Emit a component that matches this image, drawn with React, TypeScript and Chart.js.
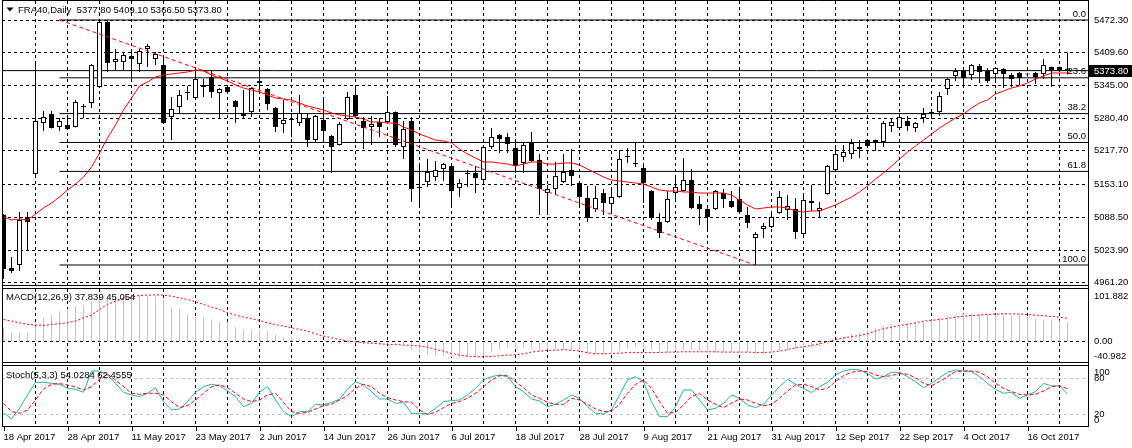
import React, { useEffect, useRef } from 'react';
import { Chart, registerables } from 'chart.js';

Chart.register(...registerables);

// ---------------- data ----------------
const dateLabels = ['18 Apr 2017', '28 Apr 2017', '11 May 2017', '23 May 2017', '2 Jun 2017', '14 Jun 2017', '26 Jun 2017', '6 Jul 2017', '18 Jul 2017', '28 Jul 2017', '9 Aug 2017', '21 Aug 2017', '31 Aug 2017', '12 Sep 2017', '22 Sep 2017', '4 Oct 2017', '16 Oct 2017'];
const priceTicks = [5472.3, 5409.6, 5345.0, 5280.4, 5217.7, 5153.1, 5088.5, 5023.9, 4961.2];

const opens = [
  5092.9, 4989.7, 4995.6, 5089.0, 5172.7, 5271.9, 5289.4, 5264.1, 5268.0, 5264.1,
  5305.0, 5310.9, 5342.0, 5468.5, 5390.6, 5390.6, 5402.2, 5386.7, 5415.9, 5396.4,
  5384.8, 5283.6, 5303.1, 5332.2, 5320.5, 5345.9, 5361.4, 5330.3, 5342.0, 5314.8,
  5289.4, 5293.3, 5353.7, 5338.1, 5301.1, 5270.0, 5279.7, 5271.9, 5281.6, 5238.8,
  5277.7, 5246.6, 5229.1, 5279.7, 5326.4, 5275.8, 5264.1, 5273.8, 5273.8, 5293.3,
  5225.2, 5275.8, 5147.4, 5157.1, 5166.8, 5182.4, 5188.2, 5145.4, 5174.6, 5174.6,
  5161.0, 5225.2, 5248.6, 5244.6, 5223.2, 5194.1, 5233.0, 5199.9, 5135.7, 5143.5,
  5157.1, 5180.5, 5155.1, 5126.0, 5104.6, 5135.7, 5114.3, 5127.9, 5207.7, 5194.1,
  5184.3, 5139.6, 5079.3, 5079.3, 5135.7, 5139.6, 5161.0, 5114.3, 5104.6, 5104.6,
  5135.7, 5120.1, 5124.0, 5092.9, 5048.1, 5065.7, 5069.5, 5096.8, 5102.6, 5104.6,
  5055.9, 5116.2, 5100.7, 5133.8, 5180.5, 5205.7, 5211.6, 5225.2, 5238.8, 5238.8,
  5234.9, 5266.0, 5262.1, 5275.8, 5262.1, 5281.6, 5293.3, 5293.3, 5338.1, 5363.3,
  5373.1, 5365.3, 5382.8, 5373.1, 5367.2, 5377.0, 5365.3, 5369.2, 5367.2, 5369.2,
  5367.2, 5380.9, 5380.9, 5377.8,
];
const highs = [
  5094.8, 5011.2, 5098.7, 5098.7, 5390.6, 5295.3, 5295.3, 5281.6, 5285.5, 5316.7,
  5308.9, 5386.5, 5470.4, 5472.3, 5415.9, 5408.1, 5410.0, 5415.9, 5425.6, 5410.0,
  5402.2, 5322.5, 5336.1, 5343.9, 5375.0, 5357.5, 5373.1, 5339.5, 5343.9, 5316.7,
  5336.1, 5342.0, 5375.0, 5340.0, 5303.0, 5316.7, 5291.4, 5326.4, 5291.4, 5287.5,
  5320.5, 5248.6, 5273.8, 5332.2, 5342.0, 5283.6, 5285.5, 5281.6, 5324.5, 5294.5,
  5275.8, 5283.6, 5194.1, 5201.8, 5198.0, 5194.1, 5189.5, 5163.0, 5180.5, 5188.2,
  5226.5, 5262.1, 5250.5, 5252.5, 5238.8, 5233.0, 5254.4, 5211.6, 5151.3, 5196.0,
  5211.6, 5221.3, 5156.5, 5149.3, 5149.3, 5143.5, 5145.4, 5219.4, 5223.2, 5233.0,
  5194.1, 5141.0, 5096.8, 5139.6, 5168.8, 5203.8, 5182.4, 5129.9, 5106.0, 5141.5,
  5143.5, 5139.6, 5145.4, 5108.5, 5059.8, 5077.4, 5098.7, 5139.6, 5131.8, 5126.0,
  5129.9, 5151.3, 5118.2, 5190.2, 5227.1, 5229.1, 5240.8, 5238.8, 5240.0, 5240.0,
  5275.8, 5279.7, 5291.4, 5285.5, 5273.8, 5301.1, 5299.2, 5332.2, 5359.0, 5378.9,
  5378.9, 5386.7, 5386.7, 5378.9, 5380.0, 5378.9, 5369.2, 5371.1, 5369.2, 5371.1,
  5396.4, 5381.5, 5381.5, 5409.1,
];
const lows = [
  4968.4, 4980.1, 4984.0, 5024.8, 5170.0, 5256.4, 5261.0, 5256.4, 5259.0, 5263.0,
  5281.6, 5301.1, 5341.0, 5371.1, 5375.0, 5375.0, 5351.7, 5371.1, 5380.9, 5384.8,
  5270.5, 5238.8, 5291.4, 5316.7, 5319.5, 5322.5, 5320.5, 5281.6, 5330.3, 5271.9,
  5279.7, 5283.6, 5336.1, 5297.2, 5254.5, 5252.5, 5244.6, 5266.0, 5225.2, 5234.9,
  5234.9, 5174.7, 5228.0, 5277.7, 5283.6, 5221.3, 5229.1, 5244.6, 5272.8, 5225.2,
  5201.8, 5118.1, 5106.5, 5147.4, 5159.0, 5159.0, 5106.5, 5127.9, 5147.4, 5135.7,
  5153.2, 5221.3, 5213.5, 5213.5, 5174.7, 5174.7, 5196.5, 5092.9, 5092.9, 5131.8,
  5155.1, 5149.3, 5106.5, 5079.3, 5098.7, 5092.9, 5096.8, 5126.5, 5194.1, 5186.3,
  5116.2, 5083.2, 5048.1, 5078.0, 5122.1, 5138.5, 5104.6, 5073.4, 5059.8, 5102.6,
  5106.5, 5106.5, 5094.8, 5067.6, 4995.6, 5048.1, 5067.6, 5095.5, 5083.2, 5046.2,
  5054.5, 5100.7, 5087.1, 5132.5, 5179.5, 5196.0, 5201.8, 5203.8, 5225.2, 5217.4,
  5225.2, 5254.4, 5258.3, 5256.4, 5254.4, 5271.9, 5279.7, 5285.5, 5326.4, 5353.6,
  5340.0, 5355.6, 5349.8, 5349.8, 5349.8, 5340.0, 5342.0, 5345.9, 5362.3, 5347.9,
  5357.5, 5342.0, 5371.1, 5366.5,
];
const closes = [
  4987.8, 4984.0, 5083.2, 5079.3, 5275.8, 5283.6, 5262.1, 5275.8, 5260.2, 5312.8,
  5303.1, 5384.8, 5468.4, 5388.7, 5396.4, 5404.2, 5396.4, 5412.0, 5421.7, 5406.1,
  5271.9, 5299.2, 5326.4, 5330.3, 5357.5, 5342.0, 5332.2, 5338.1, 5332.2, 5303.1,
  5285.5, 5340.0, 5349.8, 5308.9, 5264.1, 5277.7, 5277.7, 5291.4, 5238.8, 5285.5,
  5256.4, 5225.2, 5270.0, 5322.5, 5285.5, 5262.1, 5270.0, 5264.1, 5293.3, 5229.1,
  5260.2, 5143.5, 5145.4, 5176.6, 5180.5, 5192.1, 5139.6, 5155.1, 5172.7, 5164.9,
  5225.2, 5244.6, 5240.8, 5231.0, 5188.2, 5229.1, 5197.9, 5143.5, 5143.5, 5168.8,
  5176.6, 5168.8, 5127.9, 5087.1, 5126.0, 5116.2, 5127.9, 5201.8, 5205.7, 5192.1,
  5155.1, 5087.1, 5057.9, 5124.0, 5147.4, 5161.0, 5106.5, 5104.6, 5089.0, 5139.6,
  5124.0, 5108.5, 5098.7, 5077.4, 5055.9, 5071.5, 5088.9, 5127.9, 5110.4, 5059.8,
  5122.1, 5120.1, 5106.5, 5188.2, 5211.6, 5215.5, 5233.0, 5221.3, 5227.1, 5233.0,
  5271.9, 5273.8, 5283.6, 5266.0, 5271.9, 5289.4, 5291.4, 5324.5, 5357.5, 5373.1,
  5359.5, 5384.8, 5371.1, 5353.6, 5378.9, 5367.2, 5357.5, 5359.5, 5366.2, 5361.4,
  5384.8, 5375.0, 5375.0, 5373.8,
];
const movingAverage = [
  5089.0, 5083.2, 5085.1, 5083.2, 5094.8, 5106.5, 5116.2, 5127.9, 5141.5, 5153.2,
  5166.8, 5186.3, 5213.5, 5242.7, 5268.0, 5297.2, 5320.5, 5343.9, 5351.7, 5361.4,
  5365.3, 5367.2, 5369.2, 5371.1, 5375.0, 5373.1, 5365.3, 5359.5, 5353.7, 5345.9,
  5340.0, 5336.1, 5332.2, 5326.4, 5320.5, 5318.6, 5316.7, 5310.8, 5305.0, 5301.1,
  5297.2, 5291.4, 5287.5, 5285.5, 5283.6, 5279.7, 5273.8, 5273.8, 5271.9, 5271.9,
  5264.1, 5258.3, 5250.5, 5244.6, 5238.8, 5236.9, 5233.0, 5221.3, 5211.6, 5203.8,
  5196.0, 5196.0, 5194.1, 5192.1, 5188.2, 5192.1, 5196.0, 5196.0, 5192.1, 5192.1,
  5194.1, 5194.1, 5190.2, 5182.4, 5174.6, 5166.8, 5161.0, 5159.1, 5157.1, 5155.1,
  5153.2, 5147.4, 5141.5, 5139.6, 5139.6, 5137.7, 5137.7, 5135.7, 5135.7, 5135.7,
  5135.7, 5131.8, 5122.1, 5112.4, 5104.6, 5106.5, 5108.5, 5108.5, 5106.5, 5100.7,
  5098.7, 5100.7, 5100.7, 5106.5, 5112.4, 5120.1, 5127.9, 5137.7, 5149.3, 5162.9,
  5174.6, 5188.2, 5201.8, 5215.5, 5227.1, 5238.8, 5250.5, 5262.1, 5271.9, 5281.6,
  5289.4, 5301.1, 5310.8, 5316.7, 5328.3, 5334.2, 5340.0, 5343.9, 5349.8, 5357.5,
  5363.3, 5369.2, 5369.2, 5369.2,
];
const macdMain = [
  27, 17.4, 17.4, 17.4, 30, 46, 51.5, 59, 63.7, 68.9,
  70.8, 78.5, 85, 88, 88, 89.5, 89.5, 89.5, 89.5, 88,
  81.7, 65.6, 64.4, 52.8, 47.6, 46.3, 43.1, 38.6, 38.6, 29,
  23.8, 23.8, 23.8, 20.6, 14.2, 9, 9, 4.5, 1, 0.5,
  -1, -5, -5, -2, -2, -3.9, -5, -5, -4, -4,
  -5, -14.8, -21, -25.7, -27.7, -27.7, -29.6, -30.9, -29.6, -29.6,
  -27.7, -21, -14.8, -11.6, -11.6, -11.6, -12.9, -16.7, -14.8, -14.8,
  -14.8, -14.8, -18, -24.5, -24.5, -24.5, -21, -18, -13.5, -10.3,
  -11.6, -14.8, -21, -21, -18, -14.8, -14.8, -18, -21, -21,
  -21, -21, -21, -21, -24.5, -24.5, -21, -18, -14.8, -14.8,
  -14.8, -11.6, -8.4, -3.9, 1.3, 9, 15.4, 17.4, 21.9, 27,
  30.2, 33.5, 33.5, 36.7, 38.6, 38.6, 43.1, 46.3, 49.5, 51.5,
  54, 54, 54, 54, 52.8, 52.8, 51.5, 52.8, 49.5, 45,
  43.1, 43.1, 41.2, 37.839,
];
const macdSignal = [
  43.1, 40, 36.7, 33.5, 32.2, 31.5, 33.5, 34.7, 36.7, 40,
  46.3, 51.5, 62.4, 72, 78.5, 83.7, 86.2, 89.5, 90, 90.7,
  90, 88, 85, 81.7, 77.2, 72, 67, 62.4, 56, 51.5,
  47.6, 44.4, 41.2, 36.7, 33.5, 30.2, 27, 23.8, 20.6, 15.4,
  11, 7.7, 4.5, 1.3, 0, -2, -2.6, -3.9, -5.1, -5.1,
  -6.4, -7, -8.4, -10.3, -14.8, -18, -22.5, -25.7, -27.7, -29,
  -29, -28.3, -27, -25.7, -25.1, -23.2, -19.9, -18, -16.7, -16.1,
  -15.4, -16.1, -18, -21, -23.2, -23.2, -22.5, -21.9, -21, -21,
  -21, -21, -20.6, -19.9, -19.9, -19.3, -19.3, -19.3, -19.3, -19.3,
  -19.9, -19.9, -19.9, -19.9, -20.6, -20.6, -19.9, -18, -15.4, -11.6,
  -9.7, -7.1, -3.9, 0, 4.5, 7.7, 9.7, 12.2, 15.4, 20.6,
  25.1, 28.3, 31.5, 33.5, 36.7, 39.9, 41.2, 43.1, 45, 47.6,
  49.5, 50.8, 51.5, 52.8, 53.4, 54, 54, 53.4, 52.8, 51.5,
  50.2, 48.9, 47.6, 45.054,
];
const stochMain = [
  22.8, 12.2, 30, 52.2, 73.3, 73.3, 71.7, 70, 63.3, 61.7,
  56.7, 92.2, 92.2, 85.6, 71.7, 56.7, 52.2, 49.4, 55, 64.4,
  41.1, 27.2, 28.9, 41.1, 56.7, 66.1, 70, 67.8, 58.9, 49.4,
  32.8, 38.3, 56.7, 66.1, 43.9, 24.4, 16.1, 24.4, 24.4, 36.7,
  35.6, 40, 45, 62.2, 74.4, 68.9, 57.8, 45.6, 45.6, 38.3,
  40, 21.7, 21.7, 20.6, 30, 41.1, 42.8, 43.9, 52.2, 63.3,
  77.2, 82.8, 85.6, 82.8, 66.1, 57.8, 45.6, 42.2, 32.8, 36.7,
  43.9, 52.2, 46.7, 32.8, 21.7, 20.6, 27.2, 52.2, 77.2, 82.8,
  74.4, 41.1, 16.1, 16.1, 32.8, 60.6, 60.6, 43.9, 27.2, 30,
  38.3, 52.2, 46.7, 35.6, 31.1, 36.7, 52.2, 66.1, 78.3, 70,
  63.3, 56.1, 66.1, 73.3, 85.6, 92.2, 95, 93.9, 88.3, 78.9,
  82.8, 90, 90, 82.8, 74.4, 64.4, 71.7, 81.1, 90, 93.9,
  92.2, 91.1, 82.8, 71.7, 61.7, 55, 56.7, 46.7, 52.2, 57.8,
  71.7, 67.2, 67.2, 54.0284,
];
const stochSignal = [
  38.3, 24.4, 21.7, 27.2, 43.9, 62.2, 70, 71.1, 68.9, 65.6,
  60.6, 66.1, 78.3, 86.7, 77.2, 66.1, 55, 53.3, 55, 55,
  52.2, 41.1, 31.1, 34.4, 43.9, 55, 66.1, 68.9, 64.4, 55,
  45.6, 41.1, 43.9, 52.2, 55, 40, 24.4, 21.7, 23.3, 28.9,
  34.4, 36.7, 43.9, 51.1, 63.3, 70, 66.1, 55, 47.8, 43.9,
  41.1, 40, 27.2, 20, 23.3, 31.1, 38.3, 41.1, 46.7, 55,
  66.1, 77.2, 84.4, 84.4, 74.4, 64.4, 52.2, 46.7, 40, 36.7,
  36.7, 46.7, 43.9, 36.7, 28.9, 24.4, 25.6, 36.7, 55, 70,
  77.2, 63.3, 41.1, 21.7, 23.3, 35.6, 49.4, 55, 43.9, 36.7,
  31.1, 38.3, 45.6, 43.9, 38.3, 34.4, 36.7, 46.7, 58.9, 68.9,
  70, 66.1, 60.6, 63.3, 74.4, 84.4, 90, 92.2, 91.1, 85.6,
  82.8, 84.4, 88.3, 86.7, 81.1, 71.7, 67.8, 74.4, 82.8, 91.1,
  92.2, 92.2, 90, 82.8, 71.7, 63.3, 57.8, 53.3, 52.2, 53.3,
  58.9, 66.1, 67.8, 62.4555,
];
const fibLevels = [5472.3, 5359.8, 5290.2, 5234.0, 5177.7, 4995.6];
const fibNames = ['0.0', '23.6', '38.2', '50.0', '61.8', '100.0'];
const fibAnchorBars = [7, 94];
const macdAxisLabels = ['101.882', '0.00', '-40.982'];
const stochAxisLabels = ['100', '80', '20', '0'];
const stochLevels = [80, 20];
const chartTitle = 'FRA40,Daily  5377.80 5409.10 5366.50 5373.80';
const macdTitle = 'MACD(12,26,9) 37.839 45.054';
const stochTitle = 'Stoch(5,3,3) 54.0284 62.4555';

// ---------------- layout ----------------
const W = 1132;
const H = 448;
const LEFT = 2;
const RIGHT = 1088;
const TOP = 1;
const XAXIS_H = 21;
const BAR_PX = 8;
const X_MIN = -1.5 / BAR_PX;
const X_MAX = X_MIN + (RIGHT - LEFT) / BAR_PX;
const MAIN_H = 286.5;
const MACD_H = 77;
const STOCH_H = 62.5;
const MAIN_RANGE = [4951.85, 5509.27];
const MACD_RANGE = [-43.88, 104.78];
const STOCH_RANGE = [-1.17, 103.0];
const FONT = "'Liberation Sans', Arial, sans-serif";
const FONT_SIZE = 9.5;
const DASH = [3, 3];

export default function App() {
  const ref = useRef<HTMLCanvasElement | null>(null);

  useEffect(() => {
    document.body.style.margin = '0';
    const canvas = ref.current;
    if (!canvas) return;

    const idx = closes.map((_, i) => i);
    const lastClose = closes[closes.length - 1];

    const overlay = {
      id: 'mt4Overlay',
      afterDatasetsDraw(chart: any) {
        const ctx = chart.ctx;
        const y = chart.scales.y;
        ctx.save();
        ctx.font = `${FONT_SIZE}px ${FONT}`;
        ctx.fillStyle = '#000';
        ctx.textBaseline = 'middle';
        ctx.textAlign = 'right';
        fibLevels.forEach((lv, i) => {
          ctx.fillText(fibNames[i], RIGHT - 2, y.getPixelForValue(lv) - 6);
        });
        ctx.restore();
      },
      afterDraw(chart: any) {
        const ctx = chart.ctx;
        const y = chart.scales.y;
        const bottom = chart.chartArea.bottom;
        ctx.save();
        // gaps between panes
        ctx.fillStyle = '#fff';
        ctx.fillRect(LEFT, 286, RIGHT - LEFT, 2);
        ctx.fillRect(LEFT, 363, RIGHT - LEFT, 2);
        ctx.strokeStyle = '#000';
        ctx.lineWidth = 1;
        const hl = (yy: number) => {
          ctx.beginPath();
          ctx.moveTo(LEFT, yy);
          ctx.lineTo(RIGHT + 1, yy);
          ctx.stroke();
        };
        [0.5, 285.5, 288.5, 362.5, 365.5, bottom - 0.5].forEach(hl);
        ctx.beginPath();
        ctx.moveTo(LEFT + 0.5, 0);
        ctx.lineTo(LEFT + 0.5, bottom);
        ctx.moveTo(RIGHT + 0.5, 0);
        ctx.lineTo(RIGHT + 0.5, bottom);
        ctx.stroke();

        // x tick marks under labels
        for (let i = 0; i < dateLabels.length; i++) {
          const px = Math.round(chart.scales.x.getPixelForValue(i * 8)) + 0.5;
          ctx.beginPath();
          ctx.moveTo(px, bottom);
          ctx.lineTo(px, bottom + 4);
          ctx.stroke();
        }

        // titles
        ctx.fillStyle = '#000';
        ctx.beginPath();
        ctx.moveTo(6.5, 7.5);
        ctx.lineTo(13.5, 7.5);
        ctx.lineTo(10, 11.5);
        ctx.closePath();
        ctx.fill();
        ctx.font = `${FONT_SIZE}px ${FONT}`;
        ctx.textBaseline = 'middle';
        ctx.textAlign = 'left';
        ctx.fillText(chartTitle, 18, 10.5);
        ctx.fillText(macdTitle, 6, 297.5);
        ctx.fillText(stochTitle, 6, 375.5);

        // current price box
        const py = y.getPixelForValue(lastClose);
        ctx.fillStyle = '#000';
        ctx.fillRect(RIGHT + 1, Math.round(py) - 6, W - RIGHT - 1, 12);
        ctx.fillStyle = '#fff';
        ctx.fillText(lastClose.toFixed(2), RIGHT + 6, Math.round(py));
        ctx.restore();
      },
    };

    const tickFont = { family: FONT, size: FONT_SIZE };
    const yCommon = {
      type: 'linear' as const,
      position: 'right' as const,
      stack: 'panes',
      bounds: 'data' as const,
      beginAtZero: false,
      offset: false,
      border: { display: false, dash: DASH },
      ticks: { autoSkip: false, padding: 6, font: tickFont, color: '#000' },
      afterFit: (s: any) => {
        s.width = W - RIGHT;
        s.paddingTop = 0;
        s.paddingBottom = 0;
      },
    };

    const chart = new Chart(canvas, {
      type: 'line',
      data: {
        datasets: [
          // fib levels (solid black)
          ...fibLevels.map((lv) => ({
            type: 'line' as const,
            data: [{ x: fibAnchorBars[0], y: lv }, { x: X_MAX, y: lv }],
            borderColor: '#000',
            borderWidth: 1,
            pointRadius: 0,
            yAxisID: 'y',
            order: 20,
          })),
          // bid line
          {
            type: 'line' as const,
            data: [{ x: X_MIN, y: lastClose }, { x: X_MAX, y: lastClose }],
            borderColor: '#000',
            borderWidth: 1,
            pointRadius: 0,
            yAxisID: 'y',
            order: 19,
          },
          // wicks
          {
            type: 'bar' as const,
            data: idx.map((i) => ({ x: i, y: [lows[i], highs[i]] })),
            backgroundColor: '#000',
            borderWidth: 0,
            barThickness: 1,
            maxBarThickness: 1,
            inflateAmount: 0,
            grouped: false,
            yAxisID: 'y',
            order: 10,
          },
          // bodies
          {
            type: 'bar' as const,
            data: idx.map((i) => ({ x: i, y: [opens[i], closes[i]] })),
            backgroundColor: idx.map((i) => (closes[i] >= opens[i] ? '#fff' : '#000')),
            borderColor: '#000',
            borderWidth: 1,
            borderSkipped: false,
            barThickness: 5,
            maxBarThickness: 5,
            minBarLength: 1,
            inflateAmount: 0,
            grouped: false,
            yAxisID: 'y',
            order: 9,
          },
          // moving average
          {
            type: 'line' as const,
            data: idx.map((i) => ({ x: i, y: movingAverage[i] })),
            borderColor: '#ff0000',
            borderWidth: 1,
            pointRadius: 0,
            tension: 0,
            yAxisID: 'y',
            order: 5,
          },
          // fib trend line
          {
            type: 'line' as const,
            data: [
              { x: fibAnchorBars[0], y: fibLevels[0] },
              { x: fibAnchorBars[1], y: fibLevels[fibLevels.length - 1] },
            ],
            borderColor: '#ff0000',
            borderWidth: 1,
            borderDash: [4, 3],
            pointRadius: 0,
            yAxisID: 'y',
            order: 4,
          },
          // MACD histogram
          {
            type: 'bar' as const,
            data: idx.map((i) => ({ x: i, y: macdMain[i] })),
            backgroundColor: '#c0c0c0',
            borderWidth: 0,
            barThickness: 1,
            maxBarThickness: 1,
            inflateAmount: 0,
            grouped: false,
            yAxisID: 'yM',
            order: 8,
          },
          // MACD signal
          {
            type: 'line' as const,
            data: idx.map((i) => ({ x: i, y: macdSignal[i] })),
            borderColor: '#ff0000',
            borderWidth: 1,
            borderDash: [2, 2],
            pointRadius: 0,
            yAxisID: 'yM',
            order: 3,
          },
          // Stoch main
          {
            type: 'line' as const,
            data: idx.map((i) => ({ x: i, y: stochMain[i] })),
            borderColor: '#20b2aa',
            borderWidth: 1,
            pointRadius: 0,
            yAxisID: 'yS',
            order: 2,
          },
          // Stoch signal
          {
            type: 'line' as const,
            data: idx.map((i) => ({ x: i, y: stochSignal[i] })),
            borderColor: '#ff0000',
            borderWidth: 1,
            borderDash: [4, 2],
            pointRadius: 0,
            yAxisID: 'yS',
            order: 1,
          },
        ],
      },
      options: {
        responsive: false,
        animation: false,
        devicePixelRatio: 1,
        events: [],
        layout: { padding: { left: LEFT, top: TOP, right: 0, bottom: 0 } },
        plugins: { legend: { display: false }, tooltip: { enabled: false }, title: { display: false } },
        scales: {
          x: {
            type: 'linear',
            position: 'bottom',
            min: X_MIN,
            max: X_MAX,
            offset: false,
            bounds: 'data',
            grid: {
              offset: false,
              drawTicks: false,
              lineWidth: 1,
              color: (c: any) => (c.tick && c.tick.value === 0 ? 'rgba(0,0,0,0)' : '#000'),
            },
            border: { display: false, dash: DASH },
            ticks: {
              autoSkip: false,
              maxRotation: 0,
              minRotation: 0,
              align: 'start',
              padding: 5,
              font: tickFont,
              color: '#000',
              callback: (v: any) => {
                const n = Number(v);
                return n % 8 === 0 ? dateLabels[n / 8] || '' : '';
              },
            },
            afterBuildTicks: (s: any) => {
              const t = [];
              for (let v = 0; v <= X_MAX; v += 4) t.push({ value: v });
              s.ticks = t;
            },
            afterFit: (s: any) => {
              s.height = XAXIS_H;
              s.paddingLeft = 0;
              s.paddingRight = 0;
            },
          },
          y: {
            ...yCommon,
            stackWeight: MAIN_H,
            min: MAIN_RANGE[0],
            max: MAIN_RANGE[1],
            grid: { drawTicks: false, color: '#000', lineWidth: 1 },
            ticks: { ...yCommon.ticks, callback: (v: any) => Number(v).toFixed(2) },
            afterBuildTicks: (s: any) => { s.ticks = priceTicks.map((value) => ({ value })); },
          },
          yM: {
            ...yCommon,
            stackWeight: MACD_H,
            min: MACD_RANGE[0],
            max: MACD_RANGE[1],
            grid: {
              drawTicks: false,
              lineWidth: 1,
              color: (c: any) => (c.index === 1 ? '#000' : 'rgba(0,0,0,0)'),
            },
            ticks: { ...yCommon.ticks, callback: (_v: any, i: number) => macdAxisLabels[i] },
            afterBuildTicks: (s: any) => {
              const u = (MACD_RANGE[1] - MACD_RANGE[0]) / MACD_H;
              s.ticks = [MACD_RANGE[1] - 8.5 * u, 0, MACD_RANGE[0] + 8 * u].map((value) => ({ value }));
            },
          },
          yS: {
            ...yCommon,
            stackWeight: STOCH_H,
            min: STOCH_RANGE[0],
            max: STOCH_RANGE[1],
            grid: {
              drawTicks: false,
              lineWidth: 1,
              color: (c: any) => (c.index === 1 || c.index === 2 ? '#c0c0c0' : 'rgba(0,0,0,0)'),
            },
            ticks: { ...yCommon.ticks, callback: (_v: any, i: number) => stochAxisLabels[i] },
            afterBuildTicks: (s: any) => {
              const u = (STOCH_RANGE[1] - STOCH_RANGE[0]) / STOCH_H;
              s.ticks = [STOCH_RANGE[1] - 7.8 * u, stochLevels[0], stochLevels[1], STOCH_RANGE[0] + 6.3 * u].map((value) => ({ value }));
            },
          },
        },
      } as any,
      plugins: [overlay],
    });

    return () => chart.destroy();
  }, []);

  return (
    <div style={{ position: 'fixed', left: 0, top: 0, width: W, height: H, background: '#fff' }}>
      <canvas ref={ref} width={W} height={H} style={{ display: 'block', width: W, height: H }} />
    </div>
  );
}
